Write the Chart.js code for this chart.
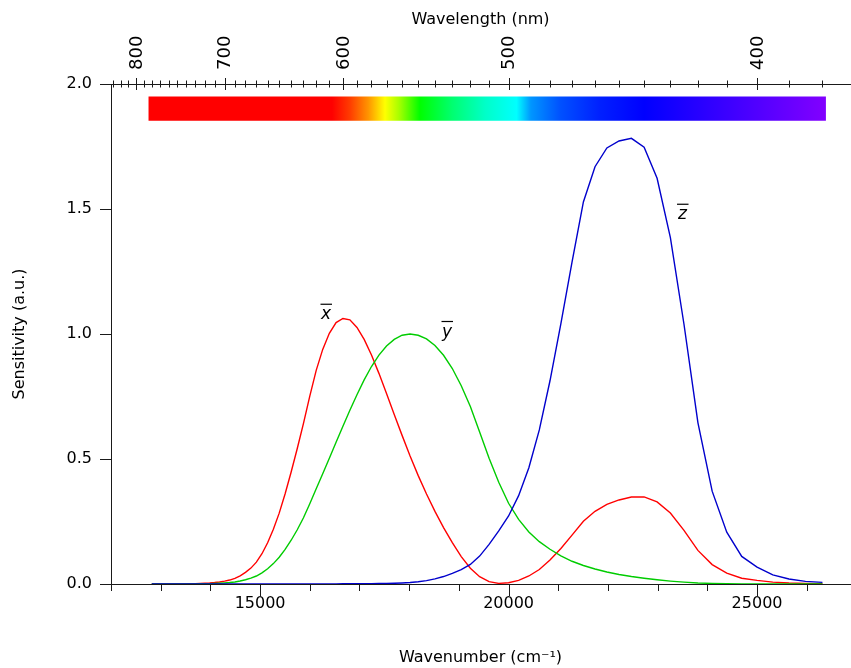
<!DOCTYPE html>
<html>
<head>
<meta charset="utf-8">
<style>
html,body{margin:0;padding:0;background:#fff;}
#wrap{width:851px;height:668px;position:relative;}
</style>
<script src="https://cdn.jsdelivr.net/npm/chart.js@4/dist/chart.umd.min.js"></script>
</head>
<body>
<div id="wrap"><canvas id="c" width="851" height="668"></canvas></div>
<script>
// ---- data (CIE 1931 colour matching functions) ----
const wavelengthsNm = [380,385,390,395,400,405,410,415,420,425,430,435,440,445,450,455,460,465,470,475,
  480,485,490,495,500,505,510,515,520,525,530,535,540,545,550,555,560,565,570,575,
  580,585,590,595,600,605,610,615,620,625,630,635,640,645,650,655,660,665,670,675,
  680,685,690,695,700,705,710,715,720,725,730,735,740,745,750,755,760,765,770,775,780];
const xBar = [0.001368,0.002236,0.004243,0.00765,0.01431,0.02319,0.04351,0.07763,0.13438,0.21477,
  0.2839,0.3285,0.34828,0.34806,0.3362,0.3187,0.2908,0.2511,0.19536,0.1421,
  0.09564,0.05795,0.03201,0.0147,0.0049,0.0024,0.0093,0.0291,0.06327,0.1096,
  0.1655,0.22575,0.2904,0.3597,0.43345,0.51205,0.5945,0.6784,0.7621,0.8425,
  0.9163,0.9786,1.0263,1.0567,1.0622,1.0456,1.0026,0.9384,0.85445,0.7514,
  0.6424,0.5419,0.4479,0.3608,0.2835,0.2187,0.1649,0.1212,0.0874,0.0636,
  0.04677,0.0329,0.0227,0.01584,0.011359,0.008111,0.00579,0.004109,0.002899,0.002049,
  0.00144,0.001,0.00069,0.000476,0.000332,0.000235,0.000166,0.000117,0.000083,0.000059,0.000042];
const yBar = [0.000039,0.000064,0.00012,0.000217,0.000396,0.00064,0.00121,0.00218,0.004,0.0073,
  0.0116,0.01684,0.023,0.0298,0.038,0.048,0.06,0.0739,0.09098,0.1126,
  0.13902,0.1693,0.20802,0.2586,0.323,0.4073,0.503,0.6082,0.71,0.7932,
  0.862,0.91485,0.954,0.9803,0.99495,1.0,0.995,0.9786,0.952,0.9154,
  0.87,0.8163,0.757,0.6949,0.631,0.5668,0.503,0.4412,0.381,0.321,
  0.265,0.217,0.175,0.1382,0.107,0.0816,0.061,0.04458,0.032,0.0232,
  0.017,0.01192,0.00821,0.005723,0.004102,0.002929,0.002091,0.001484,0.001047,0.00074,
  0.00052,0.000361,0.000249,0.000172,0.00012,0.000085,0.00006,0.000042,0.00003,0.000021,0.000015];
const zBar = [0.00645,0.01055,0.02005,0.03621,0.06785,0.1102,0.2074,0.3713,0.6456,1.03905,
  1.3856,1.62296,1.74706,1.7826,1.77211,1.7441,1.6692,1.5281,1.28764,1.0419,
  0.81295,0.6162,0.46518,0.3533,0.272,0.2123,0.1582,0.1117,0.07825,0.05725,
  0.04216,0.02984,0.0203,0.0134,0.00875,0.00575,0.0039,0.00275,0.0021,0.0018,
  0.00165,0.0014,0.0011,0.001,0.0008,0.0006,0.00034,0.00024,0.00019,0.0001,
  0.00005,0.00003,0.00002,0.00001,0,0,0,0,0,0,
  0,0,0,0,0,0,0,0,0,0,
  0,0,0,0,0,0,0,0,0,0,0];
const seriesLabels = ['x','y','z'];
const seriesColors = ['#ff0000','#00cc00','#0000cc'];

// axis ticks
const wavenumberTicks = [12000,13000,14000,15000,16000,17000,18000,19000,20000,21000,22000,23000,24000,25000,26000];
const wavenumberLabels = [15000,20000,25000];
const wavelengthTicksNm = [830,820,810,800,790,780,770,760,750,740,730,720,710,700,690,680,670,660,650,640,630,620,610,600,
  590,580,570,560,550,540,530,520,510,500,490,480,470,460,450,440,430,420,410,400,390,380];
const wavelengthLabelsNm = [800,700,600,500,400];
const sensitivityTicks = [0,0.5,1.0,1.5,2.0];

// spectrum bar colour stops (nm -> colour)
const spectrumStopsNm = [784,608,595,582,571,562,549,530,512,496,489,475,458,440,379];
const spectrumColors = ['#ff0000','#ff0000','#ff3c00','#ff9600','#ffff00','#a8ff00','#00ff00','#00ff70','#00ffc8','#00ffff','#0096ff','#0050ff','#0020ff','#0000ff','#8200ff'];

const toWavenumber = nm => 1e7 / nm;
const FONT = '"DejaVu Sans", Verdana, sans-serif';

function series(values) {
  return wavelengthsNm.map((nm, i) => ({ x: toWavenumber(nm), y: values[i] }));
}

// annotation labels for the curves (data coordinates)
const curveLabels = [
  { text: 'x', wn: 16326, val: 1.059 },
  { text: 'y', wn: 18761, val: 0.99 },
  { text: 'z', wn: 23500, val: 1.459 }
];

const decorPlugin = {
  id: 'decor',
  beforeDatasetsDraw(chart) {
    const { ctx, scales: { x, y } } = chart;
    const x0 = x.getPixelForValue(toWavenumber(spectrumStopsNm[0]));
    const x1 = x.getPixelForValue(toWavenumber(spectrumStopsNm[spectrumStopsNm.length - 1]));
    const yTop = y.getPixelForValue(1.95);
    const yBot = y.getPixelForValue(1.853);
    const g = ctx.createLinearGradient(x0, 0, x1, 0);
    spectrumStopsNm.forEach((nm, i) => {
      const p = (x.getPixelForValue(toWavenumber(nm)) - x0) / (x1 - x0);
      g.addColorStop(Math.min(1, Math.max(0, p)), spectrumColors[i]);
    });
    ctx.save();
    ctx.fillStyle = g;
    ctx.fillRect(x0, yTop, x1 - x0, yBot - yTop);
    ctx.restore();
  },
  afterDraw(chart) {
    const { ctx, chartArea, scales: { x, x2, y } } = chart;
    ctx.save();
    ctx.strokeStyle = '#1a1a1a';
    ctx.lineWidth = 1;
    ctx.beginPath();
    // bottom ticks
    x.ticks.forEach(t => {
      const px = Math.round(x.getPixelForValue(t.value)) + 0.5;
      const len = wavenumberLabels.includes(t.value) ? 12 : 7;
      ctx.moveTo(px, chartArea.bottom);
      ctx.lineTo(px, chartArea.bottom + len);
    });
    // left ticks
    y.ticks.forEach(t => {
      const py = Math.round(y.getPixelForValue(t.value)) + 0.5;
      ctx.moveTo(chartArea.left - 11, py);
      ctx.lineTo(chartArea.left, py);
    });
    // top ticks (wavelength)
    x2.ticks.forEach(t => {
      const nm = Math.round(1e7 / t.value);
      const px = Math.round(x2.getPixelForValue(t.value)) + 0.5;
      const h = wavelengthLabelsNm.includes(nm) ? 6 : 3.5;
      ctx.moveTo(px, chartArea.top - h);
      ctx.lineTo(px, chartArea.top + h);
    });
    ctx.stroke();

    // top labels, rotated
    ctx.fillStyle = '#000';
    ctx.font = '18px ' + FONT;
    ctx.textAlign = 'left';
    ctx.textBaseline = 'middle';
    wavelengthLabelsNm.forEach(nm => {
      const px = x2.getPixelForValue(toWavenumber(nm));
      ctx.save();
      ctx.translate(px + 1, chartArea.top - 14);
      ctx.rotate(-Math.PI / 2);
      ctx.fillText(String(nm), 0, 0);
      ctx.restore();
    });

    // curve labels with overbar
    ctx.font = 'italic 17px ' + FONT;
    ctx.textAlign = 'center';
    ctx.textBaseline = 'alphabetic';
    ctx.lineWidth = 1.2;
    ctx.strokeStyle = '#000';
    curveLabels.forEach(l => {
      const px = x.getPixelForValue(l.wn);
      const py = y.getPixelForValue(l.val);
      ctx.fillText(l.text, px, py);
      ctx.beginPath();
      ctx.moveTo(px - 5.5, py - 15);
      ctx.lineTo(px + 6, py - 15);
      ctx.stroke();
    });
    ctx.restore();
  }
};

const chart = new Chart(document.getElementById('c'), {
  type: 'line',
  data: {
    datasets: [
      { label: seriesLabels[2], data: series(zBar), borderColor: seriesColors[2] },
      { label: seriesLabels[1], data: series(yBar), borderColor: seriesColors[1] },
      { label: seriesLabels[0], data: series(xBar), borderColor: seriesColors[0] }
    ].map(d => Object.assign(d, { borderWidth: 1.4, pointRadius: 0, tension: 0, fill: false }))
  },
  options: {
    responsive: false,
    animation: false,
    devicePixelRatio: 1,
    layout: { padding: { left: 0, right: 1, top: 0, bottom: 0 } },
    plugins: { legend: { display: false }, tooltip: { enabled: false } },
    scales: {
      x: {
        type: 'linear', position: 'bottom', min: 12000, max: 26870,
        afterBuildTicks: s => { s.ticks = wavenumberTicks.map(v => ({ value: v })); },
        afterFit: s => { s.height = 84; },
        ticks: {
          autoSkip: false, maxRotation: 0, minRotation: 0, padding: 10, color: '#000',
          font: { family: FONT, size: 16 },
          callback: v => wavenumberLabels.includes(v) ? String(v) : ''
        },
        grid: { display: false, drawTicks: false },
        border: { display: true, color: '#1a1a1a', width: 1 },
        title: { display: true, text: 'Wavenumber (cm\u207B\u00B9)', color: '#000',
          font: { family: FONT, size: 16 }, padding: { top: 0, bottom: 1 } }
      },
      x2: {
        type: 'linear', position: 'top', min: 12000, max: 26870,
        afterBuildTicks: s => { s.ticks = wavelengthTicksNm.map(nm => ({ value: toWavenumber(nm) })); },
        afterFit: s => { s.height = 84; },
        ticks: { display: false },
        grid: { display: false, drawTicks: false },
        border: { display: true, color: '#1a1a1a', width: 1 },
        title: { display: true, text: 'Wavelength (nm)', color: '#000',
          font: { family: FONT, size: 16 }, padding: { top: 10, bottom: 0 } }
      },
      y: {
        type: 'linear', position: 'left', min: 0, max: 2,
        afterBuildTicks: s => { s.ticks = sensitivityTicks.map(v => ({ value: v })); },
        afterFit: s => { s.width = 111; },
        ticks: { padding: 19, color: '#000', font: { family: FONT, size: 16 },
          callback: v => Number(v).toFixed(1) },
        grid: { display: false, drawTicks: false },
        border: { display: true, color: '#1a1a1a', width: 1 },
        title: { display: true, text: 'Sensitivity (a.u.)', color: '#000',
          font: { family: FONT, size: 16 }, padding: { top: 10, bottom: 0 } }
      }
    }
  },
  plugins: [decorPlugin]
});
</script>
</body>
</html>
